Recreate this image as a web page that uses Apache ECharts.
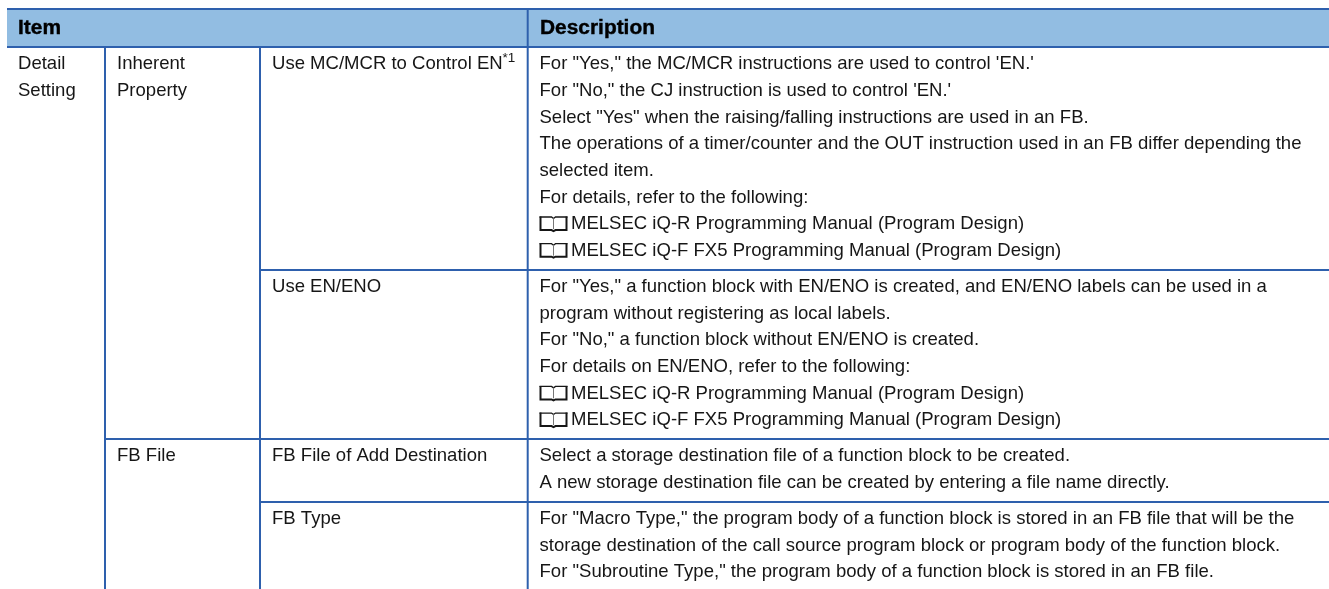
<!DOCTYPE html>
<html><head><meta charset="utf-8">
<style>html,body{margin:0;padding:0;background:#fff}#c{width:1329px;height:589px}</style>
<script src="https://cdn.jsdelivr.net/npm/echarts@6/dist/echarts.min.js"></script>
</head><body><div id="c"></div>
<script>
var headerLabels = ["Item", "Description"];
var col1Labels = ["Detail", "Setting"];
var col2Row1 = ["Inherent", "Property"];
var col2Row2 = ["FB File"];
var col3Labels = ["Use MC/MCR to Control EN", "Use EN/ENO", "FB File of Add Destination", "FB Type"];
var footnoteMark = "*1";
var descRow1 = [
  "For \"Yes,\" the MC/MCR instructions are used to control 'EN.'",
  "For \"No,\" the CJ instruction is used to control 'EN.'",
  "Select \"Yes\" when the raising/falling instructions are used in an FB.",
  "The operations of a timer/counter and the OUT instruction used in an FB differ depending the",
  "selected item.",
  "For details, refer to the following:",
  "@MELSEC iQ-R Programming Manual (Program Design)",
  "@MELSEC iQ-F FX5 Programming Manual (Program Design)"
];
var descRow2 = [
  "For \"Yes,\" a function block with EN/ENO is created, and EN/ENO labels can be used in a",
  "program without registering as local labels.",
  "For \"No,\" a function block without EN/ENO is created.",
  "For details on EN/ENO, refer to the following:",
  "@MELSEC iQ-R Programming Manual (Program Design)",
  "@MELSEC iQ-F FX5 Programming Manual (Program Design)"
];
var descRow3 = [
  "Select a storage destination file of a function block to be created.",
  "A new storage destination file can be created by entering a file name directly."
];
var descRow4 = [
  "For \"Macro Type,\" the program body of a function block is stored in an FB file that will be the",
  "storage destination of the call source program block or program body of the function block.",
  "For \"Subroutine Type,\" the program body of a function block is stored in an FB file."
];

var LINE = '#2e60ad', FILL = '#92bde2', INK = '#161616', FONT = '"Liberation Sans", Arial, sans-serif', SIZE = 18.55;
var X0 = 7, XA = 105, XB = 260, XC = 527.7, XR = 1329, YT = 9, YH = 47, H = 589;
var els = [];
function seg(x1, y1, x2, y2, w, c) {
  els.push({type: 'line', silent: true, shape: {x1: x1, y1: y1, x2: x2, y2: y2}, style: {stroke: c || LINE, lineWidth: w || 2}});
}
function txt(s, x, base, o) {
  o = o || {};
  var sz = o.size || SIZE;
  var st = {text: s, fill: o.bold ? '#000' : INK, font: (o.bold ? 'bold ' : '') + sz + 'px ' + FONT, textAlign: 'left', textVerticalAlign: 'middle'};
  if (o.bold) { st.stroke = '#000'; st.lineWidth = 0.4; }
  els.push({type: 'text', silent: true, x: x, y: base - sz * 0.3465 + 0.7, style: st});
}
function book(x, base) {
  var t = base - 13.5, b = base + 1, m = x + 14;
  function pl(pts, w, c) { els.push({type: 'polyline', silent: true, shape: {points: pts}, style: {stroke: c || INK, lineWidth: w, fill: null}}); }
  pl([[x + 1, t], [x + 1, b - 1], [m - 2, b - 1], [m, b], [m + 2, b - 1], [x + 27, b - 1], [x + 27, t]], 2);
  pl([[x, t + 0.5], [m - 2, t + 0.5], [m, t + 2]], 1.3);
  pl([[x + 28, t + 0.5], [m + 2, t + 0.5], [m, t + 2]], 1.3);
  pl([[m, t + 2], [m, b - 2]], 1, '#777');
}
function block(lines, x, base) {
  lines.forEach(function (s, i) {
    var y = base + i * 26.67;
    if (s.charAt(0) === '@') { book(x, y); txt(s.slice(1), x + 31.5, y); }
    else txt(s, x, y);
  });
}
els.push({type: 'rect', silent: true, shape: {x: X0, y: YT, width: XR - X0, height: YH - YT}, style: {fill: FILL}});
seg(X0, YT, XR, YT); seg(X0, YH, XR, YH);
seg(XC, YT, XC, H);
seg(XA, YH, XA, H); seg(XB, YH, XB, H);
seg(XB, 270, XR, 270); seg(XA, 439, XR, 439); seg(XB, 502, XR, 502);
txt(headerLabels[0], 18, 34.3, {bold: true, size: 20.9});
txt(headerLabels[1], 540, 34.3, {bold: true, size: 20.9});
block(col1Labels, 18, 70);
block(col2Row1, 117, 70);
block(col2Row2, 117, 461.7);
txt(col3Labels[0], 272, 70);
txt(footnoteMark, 502.5, 62.7, {size: 13.5});
txt(col3Labels[1], 272, 292.7);
txt(col3Labels[2], 272, 461.7);
txt(col3Labels[3], 272, 524.7);
block(descRow1, 539.5, 70);
block(descRow2, 539.5, 292.7);
block(descRow3, 539.5, 461.7);
block(descRow4, 539.5, 524.7);

var chart = echarts.init(document.getElementById('c'), null, {width: 1329, height: 589});
chart.setOption({animation: false, backgroundColor: '#fff', graphic: {elements: els}});
</script></body></html>
